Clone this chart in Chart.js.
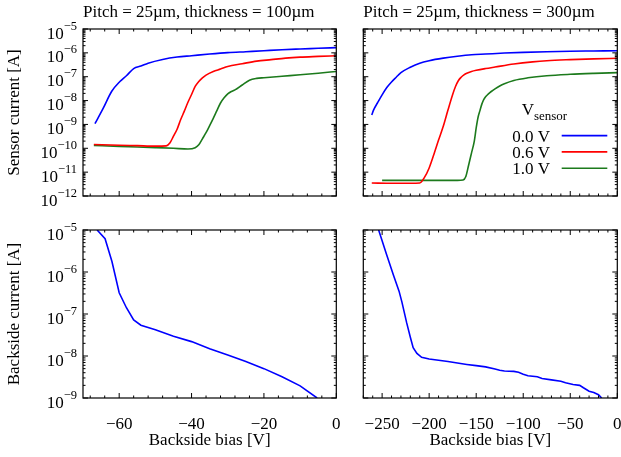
<!DOCTYPE html>
<html>
<head>
<meta charset="utf-8">
<script src="https://cdn.jsdelivr.net/npm/chart.js@4/dist/chart.umd.min.js"></script>
<style>
  html, body { margin: 0; padding: 0; background: #fff; }
  #wrap { position: relative; width: 621px; height: 457px; overflow: hidden; }
  #wrap canvas { position: absolute; left: 0; top: 0; }
</style>
</head>
<body>
<div id="wrap">
  <canvas id="cTL" width="621" height="457"></canvas>
  <canvas id="cTR" width="621" height="457"></canvas>
  <canvas id="cBL" width="621" height="457"></canvas>
  <canvas id="cBR" width="621" height="457"></canvas>
</div>
<script>
// ---------------- DATA ----------------
const seriesLabels = ['0.0 V', '0.6 V', '1.0 V'];
const panelTitles = ['Pitch = 25\u00b5m, thickness = 100\u00b5m', 'Pitch = 25\u00b5m, thickness = 300\u00b5m'];

// Sensor current, thickness 100 um (bias in V, current in A)
const bias100_0V = [-66.7,-64.4,-62.1,-59.8,-58,-56,-54,-52,-48,-44,-40,-35,-30,-25,-20,-15,-10,-5,0];
const cur100_0V  = [1.07e-9,4.8e-9,2.4e-8,6.3e-8,1.1e-7,2.2e-7,2.8e-7,3.7e-7,5.3e-7,6.7e-7,7.6e-7,8.9e-7,1.02e-6,1.12e-6,1.23e-6,1.35e-6,1.45e-6,1.55e-6,1.66e-6];
const bias100_06V = [-67,-60,-55,-50,-47,-46,-45,-44,-43,-42,-41,-40,-39,-38,-37,-36,-34,-32,-30,-26,-22,-18,-14,-10,-5,0];
const cur100_06V  = [1.45e-10,1.35e-10,1.29e-10,1.23e-10,1.26e-10,1.66e-10,3.2e-10,6.3e-10,1.6e-9,3.6e-9,8.5e-9,1.8e-8,3.9e-8,6.3e-8,8.9e-8,1.17e-7,1.66e-7,2.1e-7,2.7e-7,3.5e-7,4.5e-7,5.2e-7,6.0e-7,6.6e-7,7.1e-7,7.6e-7];
const bias100_1V = [-67,-60,-50,-45,-41,-39,-38,-37,-36,-35,-34,-33,-32,-31,-30,-29,-28,-26,-24,-22,-20,-15,-10,-5,0];
const cur100_1V  = [1.32e-10,1.2e-10,1.07e-10,1.0e-10,9.3e-11,1.05e-10,1.4e-10,2.5e-10,4.5e-10,8.9e-10,1.8e-9,3.8e-9,7.9e-9,1.3e-8,1.9e-8,2.4e-8,2.8e-8,4.5e-8,7.1e-8,8.5e-8,9.1e-8,1.05e-7,1.2e-7,1.4e-7,1.66e-7];

// Sensor current, thickness 300 um
const bias300_0V = [-261,-259,-255,-250,-245,-240,-235,-230,-220,-210,-200,-185,-170,-155,-140,-120,-100,-75,-50,-25,0];
const cur300_0V  = [2.5e-9,4.1e-9,7.9e-9,1.74e-8,3.5e-8,6.0e-8,9.5e-8,1.48e-7,2.5e-7,3.7e-7,4.7e-7,6.0e-7,7.2e-7,8.3e-7,8.9e-7,9.8e-7,1.05e-6,1.12e-6,1.17e-6,1.2e-6,1.23e-6];
const bias300_06V = [-261,-240,-220,-210,-205,-200,-195,-190,-185,-180,-175,-172,-169,-166,-163,-160,-155,-150,-140,-130,-110,-90,-75,-50,-25,0];
const cur300_06V  = [3.5e-12,3.4e-12,3.4e-12,3.5e-12,6.0e-12,1.5e-11,5.5e-11,2.2e-10,8.3e-10,4.0e-9,1.8e-8,3.9e-8,6.8e-8,9.5e-8,1.2e-7,1.4e-7,1.65e-7,1.85e-7,2.2e-7,2.55e-7,3.4e-7,4.2e-7,4.7e-7,5.2e-7,5.6e-7,5.9e-7];
const bias300_1V = [-250,-200,-170,-164,-161,-158,-155,-152,-150,-148,-146,-144,-142,-140,-137,-134,-130,-125,-120,-110,-95,-75,-50,-25,0];
const cur300_1V  = [4.5e-12,4.5e-12,4.5e-12,4.7e-12,6.6e-12,2.0e-11,6.3e-11,2.0e-10,7.1e-10,2.0e-9,3.8e-9,7.1e-9,1.1e-8,1.45e-8,1.9e-8,2.4e-8,3.1e-8,4.1e-8,5.1e-8,7.0e-8,9.0e-8,1.1e-7,1.26e-7,1.38e-7,1.48e-7];

// Backside current
const biasBack100 = [-66.1,-63.9,-62,-60,-58,-56,-54,-50,-45,-40,-35,-30,-25,-20,-15,-10,-5.3];
const curBack100  = [1.0e-5,6.2e-6,1.78e-6,3.2e-7,1.41e-7,7.2e-8,5.4e-8,4.2e-8,2.95e-8,2.2e-8,1.48e-8,1.05e-8,7.4e-9,5.0e-9,3.2e-9,1.95e-9,1.0e-9];
const biasBack300 = [-253.7,-245,-238,-232,-229,-224,-220,-217,-213,-208,-200,-190,-180,-170,-160,-150,-140,-130,-125,-120,-110,-105,-100,-95,-85,-80,-70,-60,-55,-47,-40,-36,-30,-25,-20,-16.6];
const curBack300  = [1.0e-5,2.5e-6,8.5e-7,3.5e-7,1.95e-7,6.3e-8,2.8e-8,1.58e-8,1.15e-8,9.3e-9,8.5e-9,7.9e-9,7.4e-9,6.8e-9,6.3e-9,5.9e-9,5.5e-9,4.9e-9,4.6e-9,4.4e-9,4.3e-9,4.1e-9,3.7e-9,3.4e-9,3.2e-9,2.9e-9,2.7e-9,2.5e-9,2.3e-9,2.1e-9,2.0e-9,1.75e-9,1.45e-9,1.35e-9,1.2e-9,1.0e-9];

// Axis ticks
const biasTicks100 = [-60, -40, -20, 0];
const biasTicks300 = [-250, -200, -150, -100, -50, 0];
const sensorDecades = [-12, -11, -10, -9, -8, -7, -6, -5];
const backDecades = [-9, -8, -7, -6, -5];

// ---------------- STYLE / HELPERS ----------------
const FONT = '"Liberation Serif", "Times New Roman", Times, serif';
Chart.defaults.font.family = FONT;
Chart.defaults.font.size = 17;
Chart.defaults.color = '#000';
const COLORS = ['#0000ff', '#ff0000', '#1c7a1c'];
const MINUS = '\u2212';
const fmtNum = v => (v < 0 ? MINUS + Math.abs(v) : String(v));
const pts = (xs, ys) => xs.map((x, i) => ({x, y: ys[i]}));

const gpPlugin = {
  id: 'gp',
  afterDraw(chart, args, o) {
    const {ctx, chartArea: a} = chart;
    const xs = chart.scales.x, ys = chart.scales.y;
    ctx.save();
    ctx.strokeStyle = '#000';
    ctx.lineWidth = 1;
    const seg = (x1, y1, x2, y2) => { ctx.beginPath(); ctx.moveTo(x1, y1); ctx.lineTo(x2, y2); ctx.stroke(); };
    // x ticks (inward, mirrored)
    const mStep = o.xMinorStep;
    for (let v = Math.ceil(xs.min / mStep) * mStep; v <= xs.max + 1e-9; v += mStep) {
      const px = xs.getPixelForValue(v);
      const len = o.xMajor.includes(v) ? 5 : 2.5;
      seg(px, a.bottom, px, a.bottom - len);
      seg(px, a.top, px, a.top + len);
    }
    // y ticks (log, inward, mirrored)
    const d0 = o.decades[0], d1 = o.decades[o.decades.length - 1];
    for (let e = d0; e <= d1; e++) {
      for (let m = 1; m <= 9; m++) {
        if (e === d1 && m > 1) break;
        const py = ys.getPixelForValue(m * Math.pow(10, e));
        const len = m === 1 ? 5 : 2.5;
        seg(a.left, py, a.left + len, py);
        seg(a.right, py, a.right - len, py);
      }
    }
    ctx.lineWidth = 1.2;
    ctx.strokeRect(a.left, a.top, a.right - a.left, a.bottom - a.top);

    ctx.fillStyle = '#000';
    ctx.textBaseline = 'alphabetic';
    // y tick labels 10^e
    if (o.yLabels) {
      for (const e of o.decades) {
        const py = ys.getPixelForValue(Math.pow(10, e));
        const expTxt = MINUS + Math.abs(e);
        ctx.font = '12.5px ' + FONT;
        const ew = ctx.measureText(expTxt).width;
        const right = a.left - 6;
        ctx.textAlign = 'left';
        ctx.fillText(expTxt, right - ew, py + 0.5);
        ctx.font = '17px ' + FONT;
        ctx.textAlign = 'right';
        ctx.fillText('10', right - ew, py + 9.5);
      }
    }
    // legend
    if (o.legend) {
      ctx.textAlign = 'left';
      ctx.font = '17px ' + FONT;
      const vx = a.right - 95.6, vy = a.top + 86;
      ctx.fillText('V', vx, vy);
      const vw = ctx.measureText('V').width;
      ctx.font = '13px ' + FONT;
      ctx.fillText('sensor', vx + vw, vy + 5);
      chart.data.datasets.forEach((ds, i) => {
        const by = a.top + 112.6 + i * 16.3;
        ctx.font = '17px ' + FONT;
        ctx.textAlign = 'right';
        ctx.fillStyle = '#000';
        ctx.fillText(ds.label, a.right - 67.3, by);
        ctx.strokeStyle = ds.borderColor;
        ctx.lineWidth = 1.6;
        seg(a.right - 55.6, by - 6, a.right - 10, by - 6);
      });
    }
    ctx.restore();
  }
};

function panel(id, p) {
  return new Chart(document.getElementById(id), {
    type: 'line',
    data: { datasets: p.datasets },
    plugins: [gpPlugin],
    options: {
      responsive: false,
      animation: false,
      devicePixelRatio: 1,
      layout: { padding: p.padding },
      elements: { point: { radius: 0 } },
      plugins: {
        legend: { display: false },
        tooltip: { enabled: false },
        title: p.title ? {
          display: true, text: p.title, align: 'start', fullSize: false,
          font: { size: 17, weight: 'normal', family: FONT }, color: '#000',
          padding: { top: 2.5, bottom: 6.1 }
        } : { display: false },
        gp: { xMajor: p.xTicks, xMinorStep: p.xMinorStep, decades: p.decades, yLabels: p.yLabels, legend: !!p.legend }
      },
      scales: {
        x: {
          type: 'linear', min: p.xMin, max: p.xMax,
          afterBuildTicks: s => { s.ticks = p.xTicks.map(v => ({ value: v })); },
          afterFit: s => { s.height = p.xHeight; s.paddingLeft = 0; s.paddingRight = 0; },
          grid: { display: false }, border: { display: false },
          ticks: { display: !!p.xTitle, padding: 8.3, autoSkip: false, maxRotation: 0, callback: v => fmtNum(v), font: { size: 17 } },
          title: { display: !!p.xTitle, text: p.xTitle || '', font: { size: 17 }, padding: { top: 0, bottom: 0 } }
        },
        y: {
          type: 'logarithmic', min: Math.pow(10, p.decades[0]), max: Math.pow(10, p.decades[p.decades.length - 1]),
          afterBuildTicks: s => { s.ticks = p.decades.map(e => ({ value: Math.pow(10, e) })); },
          afterFit: s => { s.width = p.yWidth; s.paddingTop = 0; s.paddingBottom = 0; },
          grid: { display: false }, border: { display: false },
          ticks: { display: false },
          title: { display: !!p.yTitle, text: p.yTitle || '', font: { size: 17 }, padding: { top: 4.8, bottom: 0 } }
        }
      }
    }
  });
}

const line = (label, data, color, smooth) => ({
  label, data, borderColor: color, backgroundColor: color, borderWidth: 1.6,
  fill: false, pointRadius: 0, cubicInterpolationMode: smooth ? 'monotone' : 'default', tension: 0
});

panel('cTL', {
  datasets: [
    line(seriesLabels[0], pts(bias100_0V, cur100_0V), COLORS[0], true),
    line(seriesLabels[1], pts(bias100_06V, cur100_06V), COLORS[1], true),
    line(seriesLabels[2], pts(bias100_1V, cur100_1V), COLORS[2], true)
  ],
  padding: { left: 0, top: 0, right: 284.7, bottom: 251 },
  yWidth: 83, xHeight: 10,
  xMin: -70, xMax: 0, xTicks: biasTicks100, xMinorStep: 4,
  decades: sensorDecades, yLabels: true,
  title: panelTitles[0], yTitle: 'Sensor current [A]'
});

panel('cTR', {
  datasets: [
    line(seriesLabels[0], pts(bias300_0V, cur300_0V), COLORS[0], true),
    line(seriesLabels[1], pts(bias300_06V, cur300_06V), COLORS[1], true),
    line(seriesLabels[2], pts(bias300_1V, cur300_1V), COLORS[2], true)
  ],
  padding: { left: 0, top: 0, right: 3.7, bottom: 251 },
  yWidth: 363.3, xHeight: 10,
  xMin: -270, xMax: 0, xTicks: biasTicks300, xMinorStep: 10,
  decades: sensorDecades, yLabels: false, legend: true,
  title: panelTitles[1]
});

panel('cBL', {
  datasets: [ line('Backside', pts(biasBack100, curBack100), COLORS[0], false) ],
  padding: { left: 0, top: 230, right: 284.7, bottom: 6.4 },
  yWidth: 83, xHeight: 52.6,
  xMin: -70, xMax: 0, xTicks: biasTicks100, xMinorStep: 4,
  decades: backDecades, yLabels: true,
  yTitle: 'Backside current [A]', xTitle: 'Backside bias [V]'
});

panel('cBR', {
  datasets: [ line('Backside', pts(biasBack300, curBack300), COLORS[0], false) ],
  padding: { left: 0, top: 230, right: 3.7, bottom: 6.4 },
  yWidth: 363.3, xHeight: 52.6,
  xMin: -270, xMax: 0, xTicks: biasTicks300, xMinorStep: 10,
  decades: backDecades, yLabels: false,
  xTitle: 'Backside bias [V]'
});
</script>
</body>
</html>
